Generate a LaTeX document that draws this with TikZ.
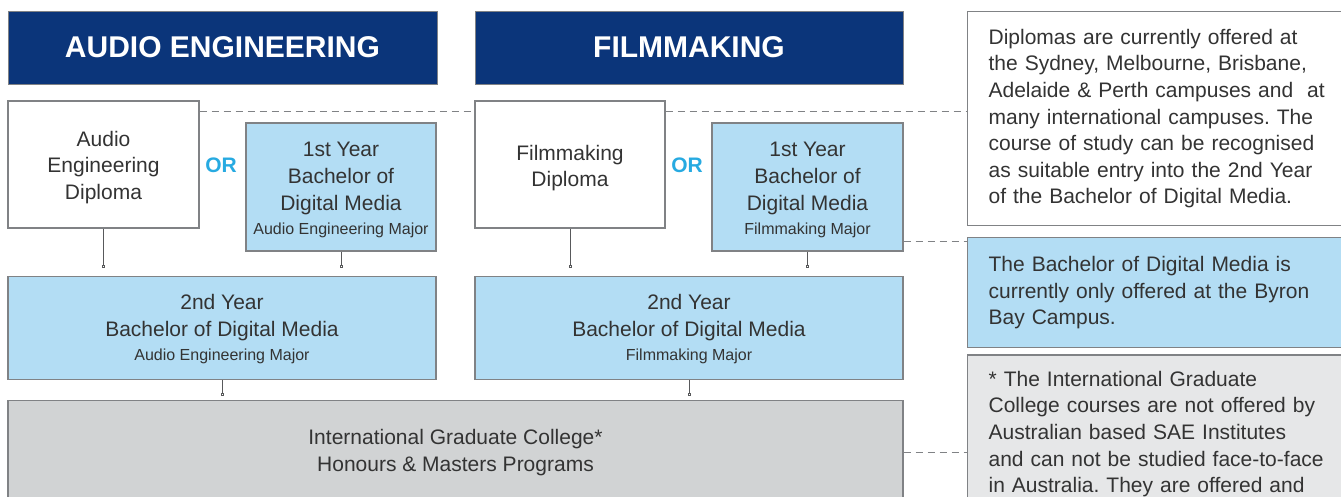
\documentclass[tikz,border=0pt]{standalone}
\usepackage{fontspec}
\setmainfont{Liberation Sans}
\usetikzlibrary{positioning,arrows.meta}
\frenchspacing

\definecolor{navyblue}{HTML}{0B357A}
\definecolor{lightblue}{HTML}{B3DDF4}
\definecolor{igcgrey}{HTML}{D1D3D4}
\definecolor{notegrey}{HTML}{E6E7E8}
\definecolor{boxline}{HTML}{808285}
\definecolor{linegrey}{HTML}{58595B}
\definecolor{textgrey}{HTML}{333333}
\definecolor{orcyan}{HTML}{27AAE1}

\newcommand{\majortext}[1]{{\fontsize{16}{19}\selectfont #1}}

\begin{document}
\begin{tikzpicture}
	[x=1pt, y=-1pt,
		headbox/.style={rectangle, draw=boxline, fill=navyblue, text=white, line width=1pt, minimum width=429pt, minimum height=73pt, font=\fontsize{30}{36}\selectfont\bfseries},
		basebox/.style={rectangle, draw=boxline, fill=white, text=textgrey, line width=1.2pt, align=center, font=\fontsize{21}{26.6}\selectfont},
		diplomabox/.style={basebox, minimum width=191pt, minimum height=127pt},
		yearbox/.style={diplomabox, fill=lightblue, minimum height=128pt},
		widebox/.style={basebox, fill=lightblue, minimum width=428pt, minimum height=103pt},
		notebox/.style={rectangle, draw=boxline, fill=white, text=textgrey, line width=1.2pt, text width=348pt, inner xsep=21pt, align=left, anchor=north west, font=\fontsize{21}{26.6}\selectfont},
		ortext/.style={text=orcyan, font=\fontsize{21}{26}\selectfont\bfseries},
		link/.style={draw=linegrey, line width=0.8pt, -{Square[open, length=3pt, width=3pt, line width=0.6pt]}, shorten >=8pt},
		dashline/.style={draw=boxline, line width=1pt, dash pattern=on 7pt off 5pt},
	]

	\clip (0,0) rectangle (1341,496);

	% headings
	\node[headbox] (hdrA) at (222.5,47.5) {AUDIO ENGINEERING};
	\node[headbox, minimum width=428pt] (hdrF) at (689,47.5) {FILMMAKING};

	% audio engineering column
	\node[diplomabox] (dipA) at (103.5,164.5) {\rule{0pt}{21pt}Audio\\Engineering\\Diploma};
	\node[yearbox, minimum width=190pt] (yr1A) at (341,187) {\rule{0pt}{21pt}1st Year\\Bachelor of\\Digital Media\\[-2pt]\majortext{Audio Engineering Major}};
	\node[ortext] (orA) at (221,165) {OR};
	\node[widebox] (yr2A) [below=47pt of dipA.south west, anchor=north west] {\rule{0pt}{18pt}2nd Year\\Bachelor of Digital Media\\[-2pt]\majortext{Audio Engineering Major}};

	% filmmaking column
	\node[diplomabox, minimum width=190pt] (dipF) at (570,164.5) {\rule{0pt}{22pt}Filmmaking\\Diploma};
	\node[yearbox] (yr1F) at (807.5,187) {\rule{0pt}{21pt}1st Year\\Bachelor of\\Digital Media\\[-2pt]\majortext{Filmmaking Major}};
	\node[ortext] (orF) at (687,165) {OR};
	\node[widebox] (yr2F) [below=47pt of dipF.south west, anchor=north west] {\rule{0pt}{18pt}2nd Year\\Bachelor of Digital Media\\[-2pt]\majortext{Filmmaking Major}};

	% graduate college
	\node[basebox, fill=igcgrey, minimum width=895pt, minimum height=104pt] (igc) [below=20pt of yr2A.south west, anchor=north west] {International Graduate College*\\Honours \& Masters Programs};

	% side notes
	\node[notebox, minimum height=214pt] (info1) at (967,11) {Diplomas are currently offered at\\the Sydney, Melbourne, Brisbane,\\Adelaide \& Perth campuses and~ at\\many international campuses. The\\course of study can be recognised\\as suitable entry into the 2nd Year\\of the Bachelor of Digital Media.};
	\node[notebox, fill=lightblue, minimum height=110pt] (info2) [below=11pt of info1.south west, anchor=north west] {The Bachelor of Digital Media is\\currently only offered at the Byron\\Bay Campus.};
	\node[notebox, fill=notegrey, inner ysep=16pt] (info3) [below=6pt of info2.south west, anchor=north west] {* The International Graduate\\College courses are not offered by\\Australian based SAE Institutes\\and can not be studied face-to-face\\in Australia. They are offered and};

	% pathways
	\draw[link] (dipA.south) -- (dipA.south |- yr2A.north);
	\draw[link] (yr1A.south) -- (yr1A.south |- yr2A.north);
	\draw[link] (dipF.south) -- (dipF.south |- yr2F.north);
	\draw[link] (yr1F.south) -- (yr1F.south |- yr2F.north);
	\draw[link, shorten >=4pt] (yr2A.south) -- (yr2A.south |- igc.north);
	\draw[link, shorten >=4pt] (yr2F.south) -- (yr2F.south |- igc.north);

	% leaders to the notes
	\draw[dashline] ([yshift=-11pt]dipA.north east) -- ([yshift=-11pt]dipA.north east -| dipF.west);
	\draw[dashline] ([yshift=-11pt]dipF.north east) -- ([yshift=-11pt]dipF.north east -| info1.west);
	\draw[dashline] ([yshift=10pt]yr1F.south east) -- ([yshift=10pt]yr1F.south east -| info2.west);
	\draw[dashline] (igc.east) -- (igc.east -| info3.west);

\end{tikzpicture}
\end{document}
